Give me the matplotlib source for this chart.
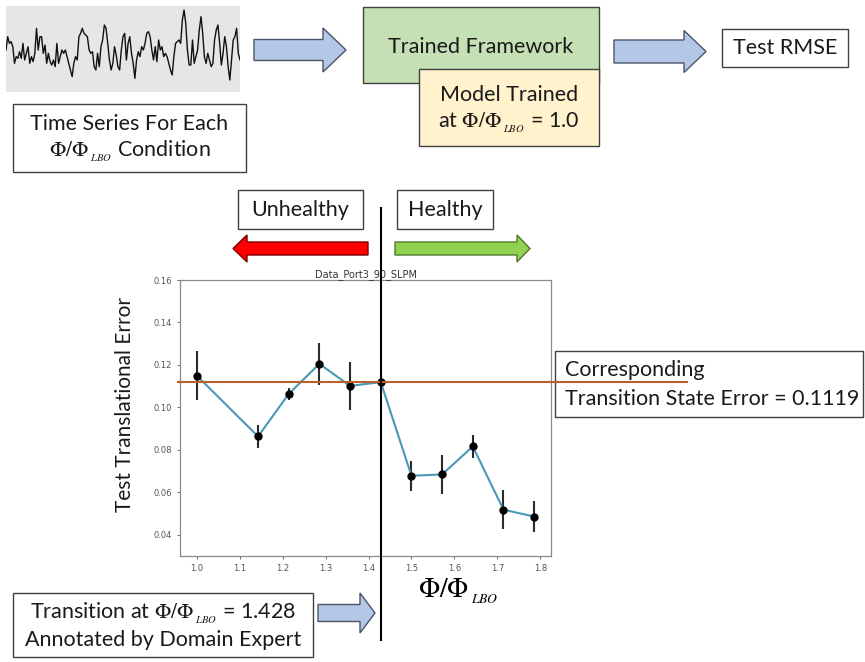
import matplotlib
matplotlib.use("Agg")
import matplotlib.pyplot as plt
import matplotlib.patches as mpatches
from matplotlib.transforms import Affine2D
import numpy as np

# measured test error per equivalence ratio condition
phi_ratio = [1.0, 1.1429, 1.2143, 1.2857, 1.3571, 1.4286, 1.5, 1.5714, 1.6429, 1.7143, 1.7857]
test_error = [0.1150, 0.0863, 0.1064, 0.1205, 0.1101, 0.1119, 0.0678, 0.0684, 0.0816, 0.0518, 0.0486]
error_std = [0.0115, 0.0055, 0.0027, 0.0098, 0.0115, 0.0010, 0.0070, 0.0093, 0.0056, 0.0092, 0.0075]
transition_phi = 1.428
transition_error = 0.1119
x_ticks = [1.0, 1.1, 1.2, 1.3, 1.4, 1.5, 1.6, 1.7, 1.8]
y_ticks = [0.04, 0.06, 0.08, 0.10, 0.12, 0.14, 0.16]

# sketch of the raw pressure trace (image levels, small = high)
trace = [150, 110, 130, 125, 140, 190, 170, 175, 155, 175, 130, 180, 160, 140, 190, 170,
         185, 160, 85, 150, 110, 110, 160, 135, 190, 160, 185, 195, 180, 200, 130, 190,
         170, 150, 160, 150, 170, 190, 210, 230, 190, 170, 180, 110, 100, 85, 100, 105,
         110, 150, 160, 155, 200, 210, 160, 200, 140, 120, 75, 85, 130, 180, 210, 190,
         140, 165, 200, 210, 150, 110, 100, 180, 130, 110, 160, 190, 235, 180, 155, 170,
         140, 150, 130, 100, 95, 110, 150, 180, 140, 185, 120, 150, 140, 170, 160, 170,
         190, 210, 225, 170, 130, 125, 120, 130, 60, 30, 70, 150, 195, 195, 120, 190,
         170, 150, 90, 50, 100, 170, 190, 160, 180, 200, 190, 120, 90, 75, 130, 195,
         160, 110, 140, 200, 240, 180, 120, 110, 85, 160, 180]

W, H = 865, 662
FONT = "Lato"
TXT = 15.5
plt.rcParams["mathtext.fontset"] = "stix"

fig = plt.figure(figsize=(W / 100, H / 100), dpi=100)
px = Affine2D().scale(1 / W, -1 / H).translate(0, 1) + fig.transFigure
PHI = r"$\Phi/\Phi_{\,_{LBO}}$"


def box(x0, y0, x1, y1, fc="white", z=2):
    fig.add_artist(mpatches.Rectangle((x0, y0), x1 - x0, y1 - y0, transform=px,
                                      fc=fc, ec="#404040", lw=1.0, zorder=z))


def label(x, y, s, size=TXT, ha="center"):
    fig.text(x, y, s, transform=px, ha=ha, va="center", fontsize=size,
             family=FONT, color="#1a1a1a", zorder=5)


def block_arrow(tail, tip, yc, body, head, hlen, fc, ec):
    d = 1 if tip > tail else -1
    hb = tip - d * hlen
    pts = [(tail, yc - body / 2), (hb, yc - body / 2), (hb, yc - head / 2), (tip, yc),
           (hb, yc + head / 2), (hb, yc + body / 2), (tail, yc + body / 2)]
    fig.add_artist(mpatches.Polygon(pts, closed=True, transform=px, fc=fc, ec=ec,
                                    lw=1.0, zorder=3))


# time series thumbnail
ax_ts = fig.add_axes([6 / W, 1 - 92 / H, 234 / W, 86 / H])
ax_ts.set_facecolor("#e6e6e6")
ax_ts.plot(trace, color="#111111", lw=1.0)
ax_ts.set_xlim(0, len(trace) - 1)
ax_ts.set_ylim(276, 18)
ax_ts.axis("off")
fig.add_artist(mpatches.Rectangle((6, 6), 234, 86, transform=px, fc="#e6e6e6",
                                  ec="none", zorder=-1))

# top flow
box(13, 104, 246, 172)
label(129.5, 124, "Time Series For Each")
label(129.5, 151, PHI + " Condition")
block_arrow(254, 346, 50, 21, 44, 23, "#b4c7e7", "#4a5568")
box(363, 7, 599, 83, fc="#c5e0b4")
label(481, 47, "Trained Framework")
box(419, 69, 599, 146, fc="#fff2cc", z=2.5)
label(509, 95, "Model Trained")
label(509, 123, "at " + PHI + " = 1.0")
block_arrow(614, 706, 51.5, 23, 42, 22, "#b4c7e7", "#4a5568")
box(722, 29, 848, 67)
label(785, 48, "Test RMSE")

# healthy / unhealthy markers
box(238, 190, 363, 229)
label(300.5, 210, "Unhealthy")
box(397, 190, 493, 229)
label(445, 210, "Healthy")
block_arrow(368, 233, 248.5, 13, 27, 14, "#ff0000", "#7a0000")
block_arrow(395, 530, 248.5, 13, 27, 13, "#92d050", "#4f7a2c")

# main error plot
ax = fig.add_axes([180 / W, 1 - 556 / H, 371 / W, 276 / H])
ax.errorbar(phi_ratio, test_error, yerr=error_std, fmt="-o", color="#4a98b8", lw=1.5,
            ecolor="#2b2b2b", elinewidth=1.5, mfc="black", mec="black", ms=5)
ax.axhline(transition_error, xmin=-0.005, xmax=1.367, color="#b8612a", lw=1.5,
           clip_on=False, zorder=4)
ax.axvline(transition_phi, ymin=-0.304, ymax=1.261, color="black", lw=1.5,
           clip_on=False, zorder=4)
ax.set_xlim(0.961, 1.825)
ax.set_ylim(0.030, 0.16)
ax.set_xticks(x_ticks)
ax.set_yticks(y_ticks)
ax.set_xticklabels([f"{t:.1f}" for t in x_ticks])
ax.set_yticklabels([f"{t:.2f}" for t in y_ticks])
ax.tick_params(labelsize=6, colors="#555555", length=2.5, width=0.6)
for s in ax.spines.values():
    s.set_color("#8a8a8a")
    s.set_linewidth(0.9)
ax.set_title("Data_Port3_90_SLPM", fontsize=7, color="#333333", pad=2)
ax.set_ylabel("Test Translational Error", fontsize=15, family=FONT, color="#1a1a1a")
ax.yaxis.set_label_coords((135 - 180) / 371, 0.55)
ax.set_xlabel(PHI, fontsize=20, va="center")
ax.xaxis.set_label_coords((458 - 180) / 371, (556 - 591) / 276)

box(555, 351, 863, 417, z=-0.5)
label(565, 370, "Corresponding", ha="left")
label(565, 399, "Transition State Error = 0.1119", ha="left")

box(13, 593, 313, 657)
label(163, 613, "Transition at " + PHI + " = 1.428")
label(163, 640, "Annotated by Domain Expert")
block_arrow(318, 375, 613, 17, 40, 15, "#b4c7e7", "#4a5568")

fig.savefig("out.png", dpi=100)
